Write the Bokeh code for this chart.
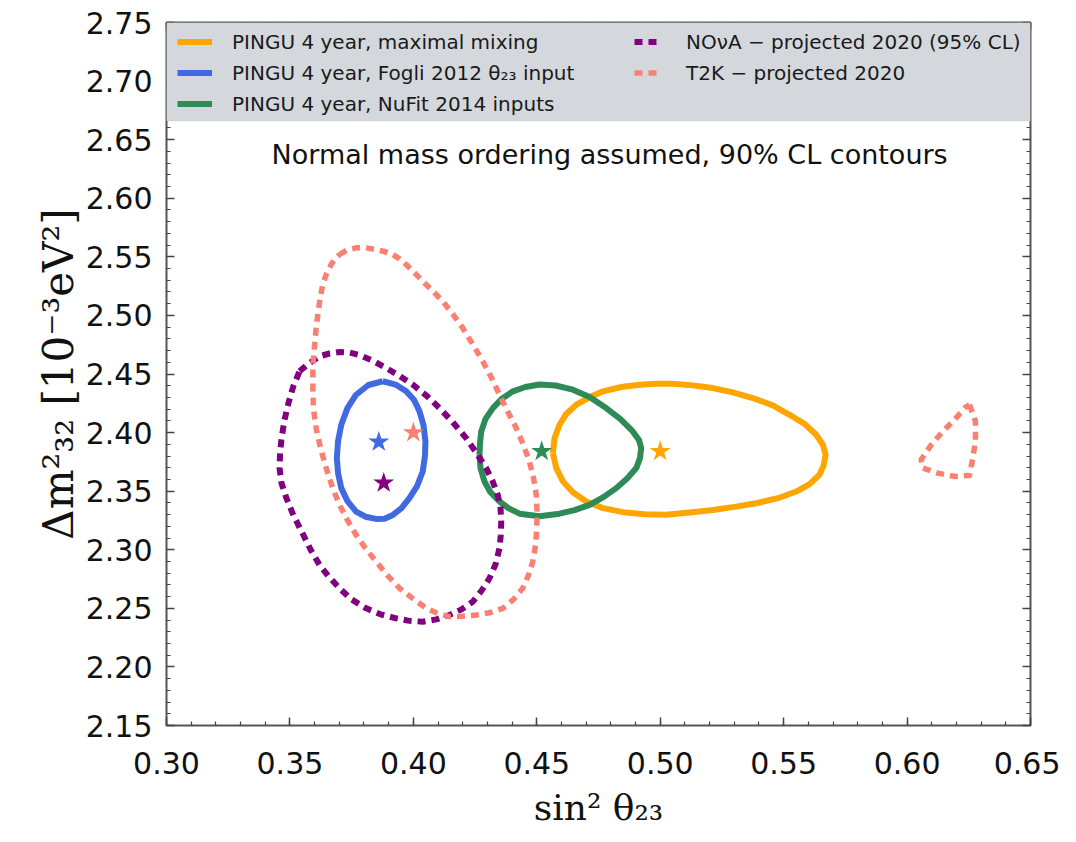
from bokeh.plotting import figure
from bokeh.models import (Range1d, SingleIntervalTicker, LinearAxis, PrintfTickFormatter,
                          Legend, LegendItem, BoxAnnotation, Label)
from bokeh.embed import file_html
from bokeh.resources import INLINE

# ---------------- data ----------------
# PINGU 4 year, maximal mixing (orange)
max_x = [0.4565, 0.4572, 0.4592, 0.4619, 0.4660, 0.4714, 0.4768, 0.4842, 0.4916, 0.4984,
         0.5051, 0.5132, 0.5213, 0.5294, 0.5375, 0.5456, 0.5524, 0.5585, 0.5632, 0.5659,
         0.5670, 0.5662, 0.5645, 0.5605, 0.5551, 0.5477, 0.5389, 0.5301, 0.5213, 0.5119,
         0.5024, 0.4936, 0.4849, 0.4768, 0.4700, 0.4646, 0.4606, 0.4579]
max_y = [2.3825, 2.3953, 2.4067, 2.4158, 2.4238, 2.4301, 2.4352, 2.4389, 2.4409, 2.4417,
         2.4417, 2.4403, 2.4380, 2.4343, 2.4295, 2.4232, 2.4152, 2.4073, 2.3981, 2.3896,
         2.3811, 2.3719, 2.3640, 2.3560, 2.3497, 2.3440, 2.3397, 2.3366, 2.3340, 2.3318,
         2.3298, 2.3303, 2.3321, 2.3355, 2.3412, 2.3491, 2.3583, 2.3697]

# PINGU 4 year, Fogli 2012 (blue)
fogli_x = [0.3876, 0.3928, 0.3971, 0.4003, 0.4025, 0.4041, 0.4049, 0.4047, 0.4038, 0.4015,
           0.3984, 0.3952, 0.3917, 0.3883, 0.3849, 0.3806, 0.3768, 0.3733, 0.3708, 0.3695,
           0.3690, 0.3695, 0.3708, 0.3733, 0.3768, 0.3818]
fogli_y = [2.4438, 2.4410, 2.4352, 2.4278, 2.4181, 2.4064, 2.3925, 2.3799, 2.3668, 2.3543,
           2.3440, 2.3355, 2.3297, 2.3265, 2.3263, 2.3282, 2.3326, 2.3415, 2.3526, 2.3654,
           2.3782, 2.3927, 2.4067, 2.4209, 2.4323, 2.4406]

# PINGU 4 year, NuFit 2014 (green)
nufit_x = [0.4268, 0.4270, 0.4275, 0.4292, 0.4322, 0.4357, 0.4403, 0.4454, 0.4511, 0.4576,
           0.4646, 0.4714, 0.4781, 0.4839, 0.4889, 0.4914, 0.4923, 0.4918, 0.4903, 0.4867,
           0.4822, 0.4770, 0.4714, 0.4653, 0.4592, 0.4511, 0.4430, 0.4385, 0.4349, 0.4312,
           0.4288, 0.4272]
nufit_y = [2.3810, 2.3910, 2.4010, 2.4115, 2.4209, 2.4286, 2.4352, 2.4389, 2.4410, 2.4402,
           2.4366, 2.4303, 2.4209, 2.4115, 2.4010, 2.3936, 2.3868, 2.3782, 2.3697, 2.3611,
           2.3526, 2.3449, 2.3383, 2.3338, 2.3308, 2.3286, 2.3308, 2.3355, 2.3412, 2.3491,
           2.3583, 2.3697]

# NOvA projected 2020 (purple, dashed)
nova_x = [0.3539, 0.3579, 0.3620, 0.3660, 0.3701, 0.3741, 0.3782, 0.3834, 0.3890, 0.3944,
          0.3998, 0.4053, 0.4106, 0.4159, 0.4214, 0.4256, 0.4295, 0.4321, 0.4342, 0.4353,
          0.4356, 0.4354, 0.4349, 0.4333, 0.4308, 0.4276, 0.4241, 0.4195, 0.4146, 0.4094,
          0.4038, 0.3984, 0.3930, 0.3867, 0.3809, 0.3749, 0.3701, 0.3656, 0.3620, 0.3583,
          0.3551, 0.3514, 0.3486, 0.3466, 0.3458, 0.3460, 0.3466, 0.3478, 0.3494, 0.3514]
nova_y = [2.4523, 2.4594, 2.4651, 2.4675, 2.4688, 2.4684, 2.4662, 2.4615, 2.4551, 2.4483,
          2.4409, 2.4316, 2.4209, 2.4090, 2.3953, 2.3825, 2.3697, 2.3585, 2.3468, 2.3355,
          2.3241, 2.3124, 2.3013, 2.2876, 2.2756, 2.2650, 2.2557, 2.2491, 2.2443, 2.2406,
          2.2386, 2.2393, 2.2415, 2.2449, 2.2500, 2.2577, 2.2671, 2.2774, 2.2870, 2.3004,
          2.3141, 2.3295, 2.3440, 2.3568, 2.3697, 2.3825, 2.3953, 2.4107, 2.4252, 2.4397]

# T2K projected 2020 (salmon, dashed) - main island
t2k_x = [0.3701, 0.3729, 0.3768, 0.3806, 0.3849, 0.3887, 0.3917, 0.3944, 0.3971, 0.4005,
         0.4038, 0.4078, 0.4119, 0.4159, 0.4200, 0.4240, 0.4281, 0.4317, 0.4349, 0.4381,
         0.4417, 0.4446, 0.4470, 0.4487, 0.4498, 0.4501, 0.4500, 0.4495, 0.4484, 0.4466,
         0.4443, 0.4406, 0.4362, 0.4308, 0.4255, 0.4199, 0.4146, 0.4098, 0.4052, 0.3997,
         0.3944, 0.3895, 0.3849, 0.3806, 0.3768, 0.3733, 0.3701, 0.3672, 0.3647, 0.3624,
         0.3606, 0.3595, 0.3593, 0.3593, 0.3600, 0.3606, 0.3613, 0.3622, 0.3633, 0.3648,
         0.3667, 0.3683]
t2k_y = [2.5520, 2.5556, 2.5577, 2.5577, 2.5562, 2.5543, 2.5520, 2.5483, 2.5434, 2.5363,
         2.5292, 2.5209, 2.5121, 2.5013, 2.4893, 2.4756, 2.4609, 2.4466, 2.4323, 2.4184,
         2.4038, 2.3893, 2.3754, 2.3611, 2.3468, 2.3329, 2.3184, 2.3038, 2.2899, 2.2782,
         2.2671, 2.2577, 2.2500, 2.2462, 2.2443, 2.2432, 2.2429, 2.2457, 2.2500, 2.2585,
         2.2671, 2.2782, 2.2899, 2.3013, 2.3127, 2.3252, 2.3383, 2.3534, 2.3697, 2.3868,
         2.4038, 2.4209, 2.4380, 2.4568, 2.4750, 2.4885, 2.5007, 2.5141, 2.5263, 2.5355,
         2.5434, 2.5483]
# T2K second (upper octant) island
t2k2_x = [0.6253, 0.6277, 0.6277, 0.6266, 0.6253, 0.6192, 0.6124, 0.6064, 0.6057, 0.6098,
          0.6145, 0.6192, 0.6233]
t2k2_y = [2.4238, 2.4096, 2.3925, 2.3782, 2.3634, 2.3626, 2.3654, 2.3697, 2.3768, 2.3896,
          2.4010, 2.4109, 2.4209]

# best-fit stars: maximal, Fogli, NuFit, NOvA, T2K
star_x = [0.500, 0.386, 0.452, 0.388, 0.400]
star_y = [2.384, 2.392, 2.384, 2.357, 2.400]

labels = ["PINGU 4 year, maximal mixing",
          "PINGU 4 year, Fogli 2012 θ₂₃ input",
          "PINGU 4 year, NuFit 2014 inputs",
          "NOνA − projected 2020 (95% CL)",
          "T2K − projected 2020"]
colors = ["#FFA500", "#4169E1", "#2E8B57", "#800080", "#FA8072"]

# ---------------- figure ----------------
p = figure(output_backend="svg", toolbar_location=None,
           x_range=Range1d(0.30, 0.65), y_range=Range1d(2.15, 2.75),
           frame_width=864, frame_height=703,
           min_border_left=166, min_border_right=30, min_border_top=22, min_border_bottom=100,
           background_fill_color="white", border_fill_color="white")
p.xgrid.visible = False
p.ygrid.visible = False
p.outline_line_color = "#555555"
p.outline_line_width = 2


def style_axis(ax, show_labels=True):
    ax.ticker = SingleIntervalTicker(interval=0.05, num_minor_ticks=5)
    ax.formatter = PrintfTickFormatter(format="%.2f")
    ax.axis_line_color = None
    ax.major_tick_in = 8
    ax.major_tick_out = 0
    ax.minor_tick_in = 4
    ax.minor_tick_out = 0
    ax.major_tick_line_color = "#444444"
    ax.minor_tick_line_color = "#444444"
    ax.major_tick_line_width = 1.5
    ax.minor_tick_line_width = 1.2
    ax.major_label_text_font = "DejaVu Sans"
    ax.major_label_text_font_size = "30px"
    ax.major_label_text_color = "#111111" if show_labels else None


style_axis(p.xaxis[0])
style_axis(p.yaxis[0])
p.xaxis[0].major_label_standoff = 26
p.yaxis[0].major_label_standoff = 14

p.xaxis[0].axis_label = "sin² θ₂₃"
p.xaxis[0].axis_label_text_font = "DejaVu Serif"
p.xaxis[0].axis_label_text_font_style = "normal"
p.xaxis[0].axis_label_text_font_size = "36px"
p.xaxis[0].axis_label_text_color = "#111111"
p.xaxis[0].axis_label_standoff = 10

p.yaxis[0].axis_label = "Δm²₃₂ [10⁻³eV²]"
p.yaxis[0].axis_label_text_font = "DejaVu Serif"
p.yaxis[0].axis_label_text_font_style = "normal"
p.yaxis[0].axis_label_text_font_size = "42px"
p.yaxis[0].axis_label_text_color = "#111111"
p.yaxis[0].axis_label_standoff = 0

ax_r = LinearAxis(major_label_standoff=0)
style_axis(ax_r, show_labels=False)
p.add_layout(ax_r, "right")
ax_t = LinearAxis(major_label_standoff=0)
style_axis(ax_t, show_labels=False)
p.add_layout(ax_t, "above")

# legend band
band = BoxAnnotation(bottom=2.666, fill_color="#d4d8dc", fill_alpha=1.0,
                     line_color="#b8bcc0", line_width=1)
p.add_layout(band)


def closed(a):
    return list(a) + [a[0]]


r_max = p.line(closed(max_x), closed(max_y), line_color=colors[0], line_width=6,
               line_join="round")
r_fogli = p.line(closed(fogli_x), closed(fogli_y), line_color=colors[1], line_width=6,
                 line_join="round")
r_nufit = p.line(closed(nufit_x), closed(nufit_y), line_color=colors[2], line_width=6,
                 line_join="round")
r_nova = p.line(closed(nova_x), closed(nova_y), line_color=colors[3], line_width=6,
                line_dash="8 6", line_join="round")
r_t2k = p.line(closed(t2k_x), closed(t2k_y), line_color=colors[4], line_width=5.5,
               line_dash="8 6", line_join="round")
r_t2k2 = p.line(closed(t2k2_x), closed(t2k2_y), line_color=colors[4], line_width=5.5,
                line_dash="8 6", line_join="round")

p.scatter(star_x, star_y, marker="star", size=22, fill_color=colors, line_color=colors,
          line_width=0)

# legends
leg1 = Legend(items=[LegendItem(label=labels[0], renderers=[r_max]),
                     LegendItem(label=labels[1], renderers=[r_fogli]),
                     LegendItem(label=labels[2], renderers=[r_nufit])],
              location=(11, 608))
leg2 = Legend(items=[LegendItem(label=labels[3], renderers=[r_nova]),
                     LegendItem(label=labels[4], renderers=[r_t2k])],
              location=(468, 639))
for lg, gw, so in [(leg1, 35, 20), (leg2, 28, 24)]:
    lg.background_fill_alpha = 0
    lg.border_line_color = None
    lg.padding = 0
    lg.margin = 0
    lg.spacing = 4
    lg.glyph_width = gw
    lg.glyph_height = 27
    lg.label_height = 27
    lg.label_standoff = so
    lg.label_text_font = "DejaVu Sans"
    lg.label_text_font_size = "20px"
    lg.label_text_color = "#1a1a1a"
    lg.label_text_baseline = "middle"
    p.add_layout(lg)

note = Label(x=0.4795, y=2.6372, text="Normal mass ordering assumed, 90% CL contours",
             text_align="center", text_baseline="middle", text_font="DejaVu Sans",
             text_font_size="27px", text_color="#111111")
p.add_layout(note)

open("out.html", "w").write(file_html(p, INLINE))
